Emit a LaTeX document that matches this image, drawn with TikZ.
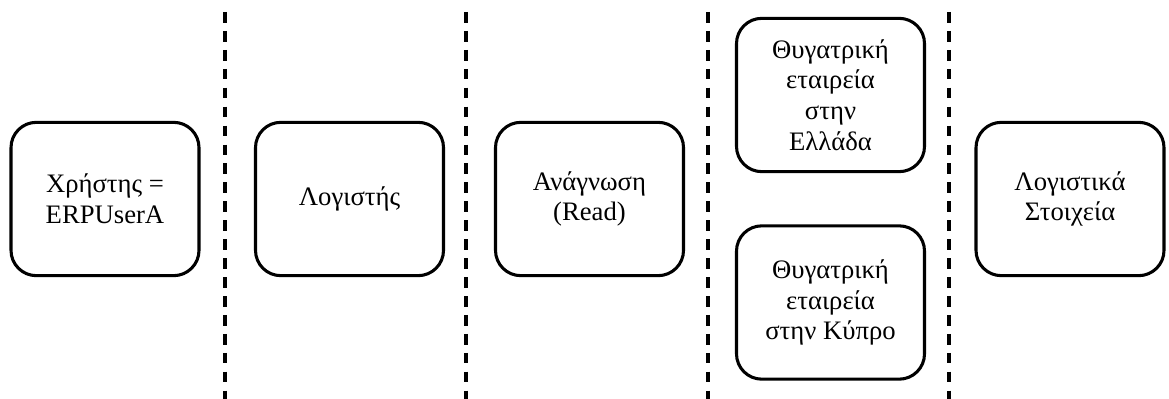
\documentclass[tikz,border=0pt]{standalone}
\usepackage{fontspec}
\setmainfont{Liberation Serif}
\begin{document}
\begin{tikzpicture}[x=0.75pt,y=-0.75pt,
  stage/.style={draw=black, line width=2.3pt, rounded corners=19pt,
    minimum width=141pt, minimum height=115pt, align=center,
    inner sep=0pt, font=\fontsize{20}{23}\selectfont},
  divider/.style={draw=black, line width=2.3pt, dash pattern=on 8pt off 6.2pt}]
\useasboundingbox (0,0) rectangle (1169,399);

% stages, left to right
\node[stage] (user)   at (105,199)   {Χρήστης =\\ERPUserA};
\node[stage] (role)   at (349.5,199) {Λογιστής};
\node[stage] (access) at (589.5,199) {Ανάγνωση\\(Read)};
\node[stage] (greece) at (830.5,95)  {Θυγατρική\\εταιρεία\\στην\\Ελλάδα};
\node[stage] (cyprus) at (830.5,302.5) {Θυγατρική\\εταιρεία\\στην Κύπρο};
\node[stage] (data)   at (1070,199)  {Λογιστικά\\Στοιχεία};

% dashed separators between the columns
\foreach \i/\x in {1/225,2/466,3/708,4/949}{
  \coordinate (sep\i top) at (\x,12);
  \coordinate (sep\i bot) at (\x,399);
  \draw[divider] (sep\i top) -- (sep\i bot);
}
\end{tikzpicture}
\end{document}
